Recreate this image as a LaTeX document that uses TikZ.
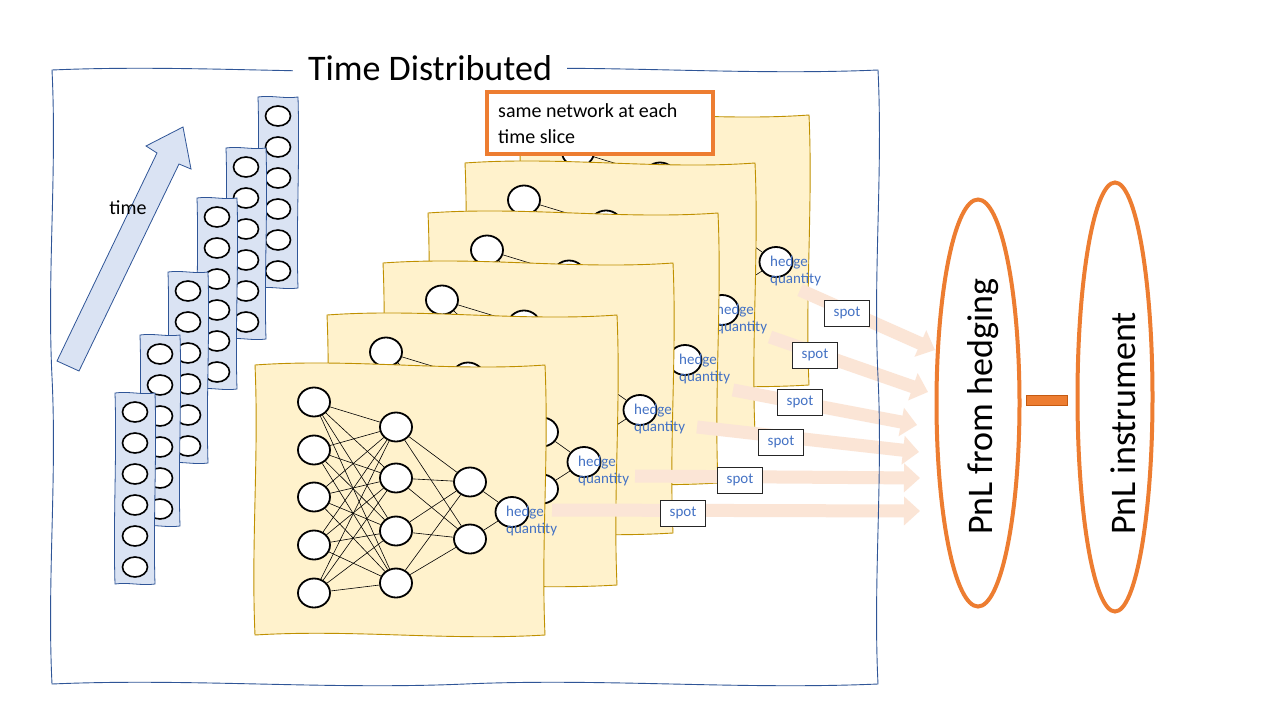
\documentclass[tikz,border=0pt]{standalone}
\usepackage{fontspec}
\setmainfont{Carlito}
\usetikzlibrary{shapes.geometric,arrows.meta}
\definecolor{panelfill}{HTML}{FFF2CC}
\definecolor{paneldraw}{HTML}{BF9000}
\definecolor{colfill}{HTML}{DAE3F3}
\definecolor{framedraw}{HTML}{2F5597}
\definecolor{orangeC}{HTML}{ED7D31}
\definecolor{orangeD}{HTML}{C55A11}
\definecolor{bluetext}{HTML}{4472C4}
\definecolor{peach}{HTML}{FBE5D6}
\begin{document}
\begin{tikzpicture}[x=1pt,y=-1pt,
  panel/.style={fill=panelfill,draw=paneldraw,line width=0.9pt},
  column/.style={fill=colfill,draw=framedraw,line width=0.8pt},
  neuron/.style={ellipse,draw=black,fill=white,line width=1.8pt,minimum width=32pt,minimum height=29pt,inner sep=0pt},
  bubble/.style={ellipse,draw=black,fill=white,line width=1.6pt,minimum width=25pt,minimum height=20pt,inner sep=0pt},
  syn/.style={draw=black,line width=0.6pt},
  hq/.style={font=\fontsize{15}{17}\selectfont,text=bluetext,align=left,inner sep=0pt,anchor=west},
  spotbox/.style={draw=black!85,fill=white,line width=0.8pt,minimum width=45pt,minimum height=26pt,inner sep=0pt,font=\fontsize{15}{17}\selectfont,text=bluetext},
  flow/.style={draw=peach,line width=13pt,-{Triangle[width=28pt,length=16pt]}},
  bigtext/.style={font=\fontsize{36}{43}\selectfont},
]
\useasboundingbox (0,0) rectangle (1280,720);
\fill[white] (0,0) rectangle (1280,720);

% input columns (back to front)
\foreach \i/\l/\t in {6/258/97,5/226/148,4/197/198,3/168/272,2/140/335,1/115/393} {
  \begin{scope}[shift={(\l,\t)}]
    \path[column] (0,0) .. controls (13,-2) and (27,2) .. (40,0)
      .. controls (42,64) and (38,127) .. (40,191)
      .. controls (27,193) and (13,189) .. (0,191)
      .. controls (-2,127) and (2,64) .. (0,0) -- cycle;
    \foreach \k in {0,...,5} \node[bubble] (c\i b\k) at (20,19+31*\k) {};
  \end{scope}
}

% time arrow
\filldraw[fill=colfill,draw=framedraw,line width=0.8pt] (57,361) -- (157,153) -- (146,146) -- (183,127) -- (191,169) -- (179,164) -- (79,371) -- cycle;
\node[font=\fontsize{20}{24}\selectfont,inner sep=0pt] (timelbl) at (128,208) {time};

% panels with networks (back to front)
\foreach \p/\dx/\dy in {6/264/-250,5/210/-202,4/173/-152,3/128/-102,2/72/-50,1/0/0} {
  \begin{scope}[shift={(\dx,\dy)}]
    \path[panel] (255,365) .. controls (352,358) and (448,372) .. (545,365)
      .. controls (549,455) and (541,545) .. (545,635)
      .. controls (448,641) and (352,629) .. (255,635)
      .. controls (251,545) and (259,455) .. (255,365) -- cycle;
    \foreach \k/\y in {1/402,2/450,3/497,4/545,5/593} \node[neuron] (p\p a\k) at (314,\y) {};
    \foreach \k/\y in {1/427,2/478,3/531,4/583} \node[neuron] (p\p b\k) at (396,\y) {};
    \foreach \k/\y in {1/482,2/539} \node[neuron] (p\p c\k) at (470,\y) {};
    \node[neuron,minimum width=33pt,minimum height=30pt] (p\p o) at (512,512) {};
    \foreach \i in {1,...,5} \foreach \j in {1,...,4} \draw[syn] (p\p a\i) -- (p\p b\j);
    \foreach \i in {1,...,4} \foreach \j in {1,2} \draw[syn] (p\p b\i) -- (p\p c\j);
    \foreach \j in {1,2} \draw[syn] (p\p c\j) -- (p\p o);
    \node[hq] (p\p h) at (506,521) {hedge\\quantity};
  \end{scope}
}

% flows to PnL
\foreach \p/\sx/\sy/\tx/\ty/\bx/\by in {6/800/290/935/350/847/313,5/770/337/928/392/815/355,4/733/390/917/425/800/402,3/697/427/919/452/781/442,2/635/476/920/478/740/480,1/552/510/920/511/683/513} {
  \coordinate (s\p) at (\sx,\sy);
  \coordinate (t\p) at (\tx,\ty);
  \draw[flow] (s\p) -- (t\p);
  \node[spotbox] (spot\p) at (\bx,\by) {spot};
}

% note box
\node[draw=orangeC,line width=3.5pt,fill=white,minimum width=226pt,minimum height=62pt,inner sep=0pt] (note) at (600,123) {};
\node[font=\fontsize{20}{26}\selectfont,align=left,anchor=west,inner sep=0pt] (notetxt) at (498,124) {same network at each\\time slice};

% PnL ellipses
\node[ellipse,draw=orangeC,line width=4pt,minimum width=83pt,minimum height=407pt,inner sep=0pt] (pnlh) at (978,403) {};
\node[rotate=90,anchor=west,inner sep=0pt,bigtext] (pnlhtxt) at (983,535) {PnL from hedging};
\node[ellipse,draw=orangeC,line width=4pt,minimum width=75pt,minimum height=429pt,inner sep=0pt] (pnli) at (1115,397) {};
\node[rotate=90,anchor=west,inner sep=0pt,bigtext] (pnlitxt) at (1123,535) {PnL instrument};
\node[fill=orangeC,draw=orangeD,line width=0.6pt,minimum width=41pt,minimum height=10pt,inner sep=0pt] (minus) at (1047,400) {};

% outer frame and title
\draw[framedraw,line width=0.9pt] (52,70) .. controls (190,64) and (327,76) .. (465,70)
  .. controls (603,64) and (740,76) .. (878,70)
  .. controls (883,172) and (873,275) .. (878,377)
  .. controls (883,479) and (873,582) .. (878,684)
  .. controls (740,690) and (603,678) .. (465,684)
  .. controls (327,690) and (190,678) .. (52,684)
  .. controls (47,582) and (57,479) .. (52,377)
  .. controls (47,275) and (57,172) .. (52,70) -- cycle;
\node[fill=white,inner xsep=15pt,inner ysep=3pt,bigtext] (title) at (430,68) {Time Distributed};
\end{tikzpicture}
\end{document}
